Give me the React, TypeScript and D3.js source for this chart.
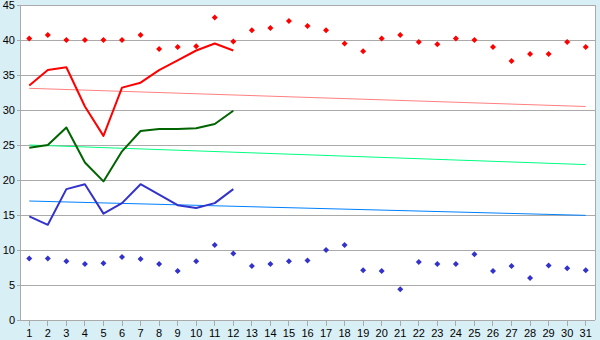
import React from "react";
import * as d3 from "d3";

const days = d3.range(1, 32).map(String);
const maxPoints = [40.2, 40.7, 40.0, 40.0, 40.0, 40.0, 40.7, 38.7, 39.0, 39.1, 43.2, 39.8, 41.4, 41.7, 42.7, 42.0, 41.4, 39.5, 38.4, 40.2, 40.7, 39.7, 39.4, 40.2, 40.0, 39.0, 37.0, 38.0, 38.0, 39.7, 39.0];
const minPoints = [8.8, 8.8, 8.4, 8.0, 8.1, 9.0, 8.7, 8.0, 7.0, 8.4, 10.7, 9.5, 7.7, 8.0, 8.4, 8.5, 10.0, 10.7, 7.1, 7.0, 4.4, 8.3, 8.0, 8.0, 9.4, 7.0, 7.7, 6.0, 7.8, 7.4, 7.1];
const redLine = [33.5, 35.7, 36.1, 30.5, 26.3, 33.2, 33.9, 35.7, 37.1, 38.5, 39.5, 38.5];
const greenLine = [24.6, 25.0, 27.5, 22.5, 19.8, 24.1, 27.0, 27.3, 27.3, 27.4, 28.0, 29.9];
const blueLine = [14.8, 13.6, 18.7, 19.4, 15.2, 16.7, 19.4, 17.9, 16.4, 16.0, 16.7, 18.7];
const trendRed = [33.1, 30.5];
const trendGreen = [25.0, 22.2];
const trendBlue = [17.0, 14.95];
const yTicks = d3.range(0, 50, 5);

const W = 600, H = 340;
const L = 20, R = 595, T = 5, B = 320;
const FONT = "'Liberation Sans', Arial, sans-serif";

export default function App() {
  const x = d3.scaleBand<string>().domain(days).range([L, R]).paddingInner(0).paddingOuter(0);
  const cx = (i: number) => (x(days[i]) as number) + x.bandwidth() / 2;
  const y = d3.scaleLinear().domain([0, 45]).range([B, T]);
  const line = d3.line<number>().x((_, i) => cx(i)).y((d) => y(d));
  const s = 3;
  const diamond = (px: number, py: number) => `M${px},${py - s}L${px + s},${py}L${px},${py + s}L${px - s},${py}Z`;
  const trend = (t: number[]) => (
    <line x1={cx(0)} x2={cx(30)} y1={y(t[0])} y2={y(t[1])} />
  );
  return (
    <svg width={W} height={H} style={{ position: "absolute", left: 0, top: 0 }} fontFamily={FONT}>
      <rect x={0} y={0} width={W} height={H} fill="#d9eff6" />
      <rect x={L} y={T} width={R - L} height={B - T} fill="#ffffff" />
      <g stroke="#aaaaaa" strokeWidth={1} shapeRendering="crispEdges">
        {yTicks.map((t) => (
          <line key={t} x1={L - 3} x2={R} y1={y(t)} y2={y(t)} />
        ))}
        <line x1={L} x2={L} y1={T} y2={B} />
        <line x1={R} x2={R} y1={T} y2={B} />
        {days.map((d, i) => (
          <line key={d} x1={cx(i)} x2={cx(i)} y1={B} y2={B + 6} />
        ))}
      </g>
      <g fontSize={11} fill="#000" textAnchor="end">
        {yTicks.map((t) => (
          <text key={t} x={L - 5} y={y(t) + 4}>{t}</text>
        ))}
      </g>
      <g fontSize={11} fill="#000" textAnchor="middle">
        {days.map((d, i) => (
          <text key={d} x={cx(i)} y={B + 17}>{d}</text>
        ))}
      </g>
      <g strokeWidth={1} fill="none">
        <g stroke="#ff8080">{trend(trendRed)}</g>
        <g stroke="#00ff80">{trend(trendGreen)}</g>
        <g stroke="#0080ff">{trend(trendBlue)}</g>
      </g>
      <g fill="none" strokeWidth={2} strokeLinejoin="round">
        <path d={line(redLine) || ""} stroke="#ff0000" />
        <path d={line(greenLine) || ""} stroke="#006400" />
        <path d={line(blueLine) || ""} stroke="#3333cc" />
      </g>
      <g fill="#ff0000">
        {maxPoints.map((v, i) => (
          <path key={i} d={diamond(cx(i), y(v))} />
        ))}
      </g>
      <g fill="#3333cc">
        {minPoints.map((v, i) => (
          <path key={i} d={diamond(cx(i), y(v))} />
        ))}
      </g>
    </svg>
  );
}
